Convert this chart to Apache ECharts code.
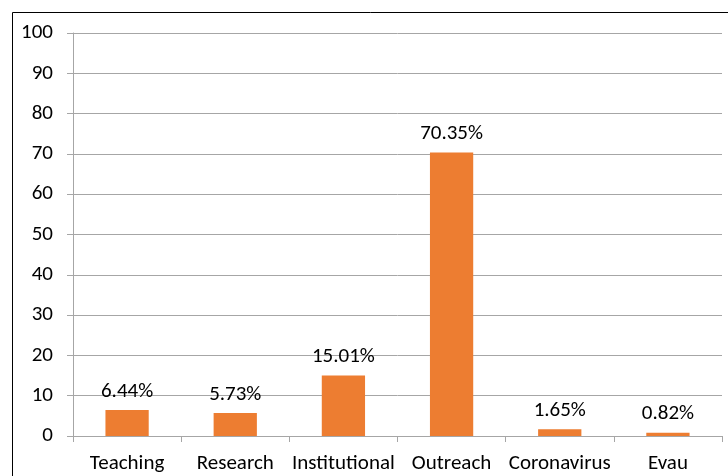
<!DOCTYPE html>
<html>
<head>
<meta charset="utf-8">
<script src="https://cdn.jsdelivr.net/npm/echarts@6/dist/echarts.min.js"></script>
<style>html,body{margin:0;padding:0;background:#fff;}#c{width:728px;height:476px;}</style>
</head>
<body>
<div id="c"></div>
<script>
var categories = ['Teaching', 'Research', 'Institutional', 'Outreach', 'Coronavirus', 'Evau'];
var values = [6.44, 5.73, 15.01, 70.35, 1.65, 0.82];
var yTicks = [0, 10, 20, 30, 40, 50, 60, 70, 80, 90, 100];

var chart = echarts.init(document.getElementById('c'));
var font = 'Carlito, "Liberation Sans", "Open Sans", sans-serif';
chart.setOption({
  animation: false,
  graphic: [{
    type: 'rect', left: 10, top: 10, shape: { width: 740, height: 490 },
    style: { fill: 'none', stroke: '#000', lineWidth: 1 }, z: -1
  }],
  grid: { left: 73, right: 6, top: 33, bottom: 40 },
  xAxis: {
    type: 'category', data: categories,
    axisLine: { lineStyle: { color: '#a6a6a6' } },
    axisTick: { show: true, alignWithLabel: false, length: 6, lineStyle: { color: '#a6a6a6' } },
    axisLabel: { color: '#000', fontSize: 21, fontFamily: font, margin: 17, interval: 0 }
  },
  yAxis: {
    type: 'value', min: yTicks[0], max: yTicks[yTicks.length - 1], interval: 10,
    axisLine: { show: true, lineStyle: { color: '#a6a6a6' } },
    axisTick: { show: true, length: 6, lineStyle: { color: '#a6a6a6' } },
    splitLine: { lineStyle: { color: '#a6a6a6' } },
    axisLabel: { color: '#000', fontSize: 21, fontFamily: font, margin: 20 }
  },
  series: [{
    type: 'bar', data: values, barWidth: '40%',
    itemStyle: { color: '#ED7D31' },
    label: {
      show: true, position: 'top', distance: 8, color: '#000',
      fontSize: 21, fontFamily: font,
      formatter: function (p) { return p.value.toFixed(2) + '%'; }
    }
  }]
});
</script>
</body>
</html>
